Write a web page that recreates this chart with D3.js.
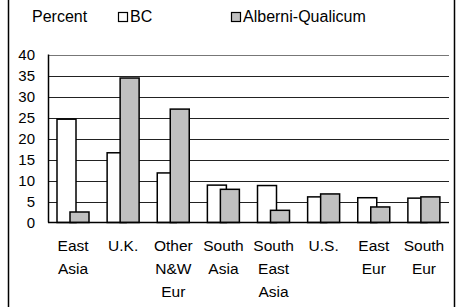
<!DOCTYPE html>
<html>
<head>
<meta charset="utf-8">
<script src="https://cdn.jsdelivr.net/npm/d3@7"></script>
<style>
  body { margin: 0; background: #fff; }
  svg { display: block; font-family: "Liberation Sans", Arial, sans-serif; }
</style>
</head>
<body>
<svg id="chart"></svg>
<script>
// data
const categories = [["East", "Asia"], ["U.K."], ["Other", "N&W", "Eur"], ["South", "Asia"],
  ["South", "East", "Asia"], ["U.S."], ["East", "Eur"], ["South", "Eur"]];
const bcValues = [24.6, 16.6, 11.8, 8.9, 8.8, 6.1, 5.9, 5.8];
const aqValues = [2.5, 34.4, 27.0, 7.9, 2.9, 6.8, 3.7, 6.1];
const yTicks = [0, 5, 10, 15, 20, 25, 30, 35, 40];
const seriesNames = ["BC", "Alberni-Qualicum"];

const width = 456, height = 307;
const margin = { top: 54.5, right: 7, bottom: 85, left: 48 };

const svg = d3.select('#chart').attr('width', width).attr('height', height);

// outer frame (only the sides show)
svg.append('line').attr('x1', 8.5).attr('x2', 8.5).attr('y1', 0).attr('y2', height)
  .attr('stroke', '#000').attr('stroke-width', 1.5);
svg.append('line').attr('x1', 454.5).attr('x2', 454.5).attr('y1', 0).attr('y2', height)
  .attr('stroke', '#000').attr('stroke-width', 1.5);

const x = d3.scaleBand()
  .domain(d3.range(categories.length))
  .range([margin.left, width - margin.right]);

const y = d3.scaleLinear()
  .domain([0, 40])
  .range([222.5, margin.top]);

// gridlines
svg.append('g')
  .selectAll('line')
  .data(yTicks.slice(1))
  .enter()
  .append('line')
  .attr('x1', margin.left)
  .attr('x2', width - margin.right)
  .attr('y1', d => Math.round(y(d)) + 0.5)
  .attr('y2', d => Math.round(y(d)) + 0.5)
  .attr('stroke', d => d === 40 ? '#777' : '#222')
  .attr('stroke-width', 1);

// y tick labels
svg.append('g')
  .selectAll('text')
  .data(yTicks)
  .enter()
  .append('text')
  .attr('x', 35)
  .attr('y', d => y(d))
  .attr('dy', '0.35em')
  .attr('text-anchor', 'end')
  .attr('font-size', 15)
  .text(d => d);

// bars: BC first, grey series overlapping on top
const bw = 19, offBC = 9, offAQ = 22;
svg.append('g')
  .selectAll('rect')
  .data(bcValues)
  .enter()
  .append('rect')
  .attr('x', (d, i) => x(i) + offBC)
  .attr('y', d => y(d))
  .attr('width', bw)
  .attr('height', d => y(0) - y(d))
  .attr('fill', '#fff')
  .attr('stroke', '#000')
  .attr('stroke-width', 1.5);

svg.append('g')
  .selectAll('rect')
  .data(aqValues)
  .enter()
  .append('rect')
  .attr('x', (d, i) => x(i) + offAQ)
  .attr('y', d => y(d))
  .attr('width', bw)
  .attr('height', d => y(0) - y(d))
  .attr('fill', '#c0c0c0')
  .attr('stroke', '#000')
  .attr('stroke-width', 1.5);

// axes lines
svg.append('line').attr('x1', margin.left).attr('x2', width - margin.right)
  .attr('y1', 222.5).attr('y2', 222.5).attr('stroke', '#000').attr('stroke-width', 1.5);
svg.append('line').attr('x1', margin.left + 0.5).attr('x2', margin.left + 0.5)
  .attr('y1', margin.top).attr('y2', 222.5).attr('stroke', '#000').attr('stroke-width', 1.5);

// category labels
const labels = svg.append('g')
  .selectAll('text')
  .data(categories)
  .enter()
  .append('text')
  .attr('text-anchor', 'middle')
  .attr('font-size', 15.5)
  .attr('x', (d, i) => x(i) + x.bandwidth() / 2)
  .attr('y', 251);
labels.selectAll('tspan')
  .data(d => d)
  .enter()
  .append('tspan')
  .attr('x', function () { return this.parentNode.getAttribute('x'); })
  .attr('dy', (d, i) => i === 0 ? 0 : 23)
  .text(d => d);

// legend
svg.append('text').attr('x', 32).attr('y', 21.5).attr('font-size', 16).text('Percent');
const legendX = [118.5, 231.5];
const legendFill = ['#fff', '#c0c0c0'];
seriesNames.forEach((name, i) => {
  svg.append('rect')
    .attr('x', legendX[i]).attr('y', 12.5)
    .attr('width', 9).attr('height', 9)
    .attr('fill', legendFill[i]).attr('stroke', '#000').attr('stroke-width', 1.2);
  svg.append('text')
    .attr('x', legendX[i] + 11.5).attr('y', 21.5)
    .attr('font-size', 16)
    .text(name);
});
</script>
</body>
</html>
